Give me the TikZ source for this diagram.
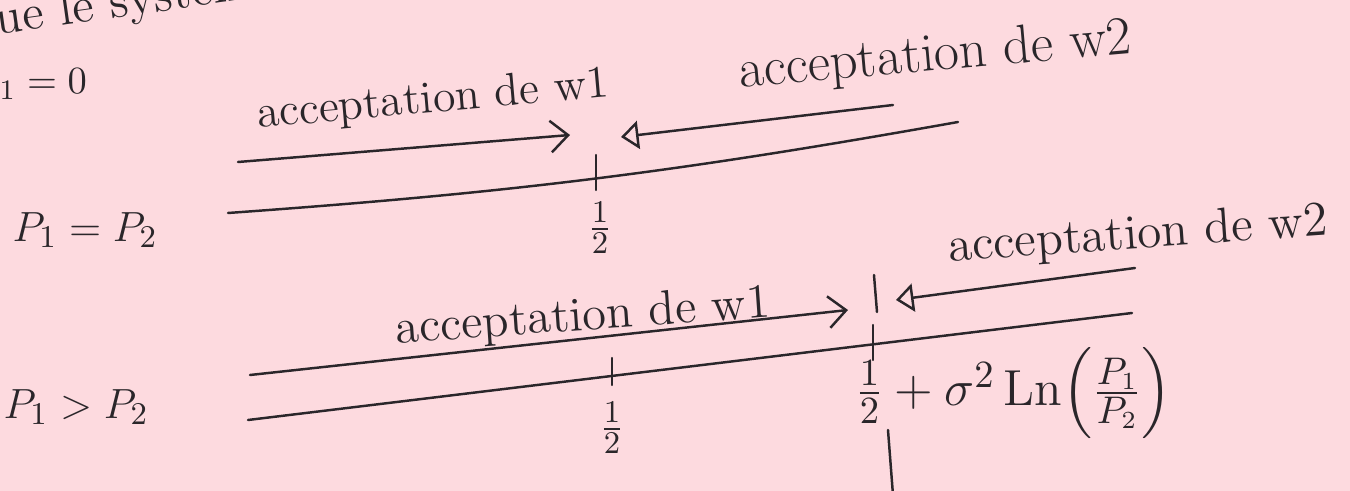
\documentclass[tikz,border=0pt]{standalone}
\usepackage{amsmath}
\usepackage{xcolor}
\usepackage{tikz}
\usetikzlibrary{arrows,arrows.meta}
\definecolor{papier}{RGB}{253,218,223}
\definecolor{encre}{RGB}{42,38,42}
\tikzset{
  trait/.style={draw=encre,line width=0.7pt,line cap=round},
  fleche/.style={trait,-{Straight Barb[length=5pt,width=9pt]}},
  flechetri/.style={trait,-{Triangle[open,length=5pt,width=8pt]}},
  texte/.style={text=encre,inner sep=0pt,font=\fontsize{13}{15}\selectfont},
}

\begin{document}
\begin{tikzpicture}[x=0.01cm,y=-0.01cm]
                \useasboundingbox (0,0) rectangle (1350,491);
                \fill[papier] (0,0) rectangle (1350,491);
                \clip (0,0) rectangle (1350,491);
                \node[texte,font=\fontsize{14}{16}\selectfont,anchor=base west,rotate=8] (titre) at (-28,38) {que le syst\`eme};
                \node[texte,font=\fontsize{11}{13}\selectfont,anchor=base west] (cond) at (-1,94) {${}_1 = 0$};
                % cas P1 = P2
                \coordinate (a1l) at (238,162);
                \coordinate (a1r) at (570,135);
                \coordinate (b1r) at (893,105);
                \coordinate (b1l) at (621,137);
                \coordinate (x1l) at (228,213);
                \coordinate (x1r) at (958,122);
                \coordinate (t1h) at (596,155);
                \coordinate (t1b) at (596,190);
                \draw[fleche] (a1l) -- (a1r);
                \draw[flechetri] (b1r) -- (b1l);
                \draw[trait] (x1l) to[bend right=3] (x1r);
                \draw[trait] (t1h) -- (t1b);
                \node[texte,rotate=5] (lw1a) at (433,101) {acceptation de w1};
                \node[texte,font=\fontsize{15.5}{17}\selectfont,rotate=5] (lw2a) at (935,57) {acceptation de w2};
                \node[texte] (demi1) at (600,228) {$\frac{1}{2}$};
                \node[texte,anchor=west] (cas1) at (12,230) {$P_1 = P_2$};
                % cas P1 > P2
                \coordinate (a2l) at (250,375);
                \coordinate (a2r) at (848,310);
                \coordinate (b2r) at (1135,268);
                \coordinate (b2l) at (896,300);
                \coordinate (m2h) at (874,275);
                \coordinate (m2b) at (877,312);
                \coordinate (x2l) at (248,420);
                \coordinate (x2r) at (1132,313);
                \coordinate (t2h) at (612,358);
                \coordinate (t2b) at (612,385);
                \coordinate (t3h) at (873,325);
                \coordinate (t3b) at (873,360);
                \coordinate (v2h) at (888,430);
                \coordinate (v2b) at (893,495);
                \draw[fleche] (a2l) -- (a2r);
                \draw[flechetri] (b2r) -- (b2l);
                \draw[trait] (m2h) -- (m2b);
                \draw[trait] (x2l) -- (x2r);
                \draw[trait] (t2h) -- (t2b);
                \draw[trait] (t3h) -- (t3b);
                \draw[trait] (v2h) -- (v2b);
                \node[texte,font=\fontsize{13.8}{16}\selectfont,rotate=4] (lw1b) at (583,318) {acceptation de w1};
                \node[texte,font=\fontsize{14}{16}\selectfont,rotate=4] (lw2b) at (1138,236) {acceptation de w2};
                \node[texte] (demi2) at (612,428) {$\frac{1}{2}$};
                \node[texte,font=\fontsize{15}{17}\selectfont,anchor=west] (seuil) at (855,393) {$\frac{1}{2} + \sigma^2\,\mathrm{Ln}\Bigl(\frac{P_1}{P_2}\Bigr)$};
                \node[texte,anchor=west] (cas2) at (3,407) {$P_1 > P_2$};
            \end{tikzpicture}
\end{document}
